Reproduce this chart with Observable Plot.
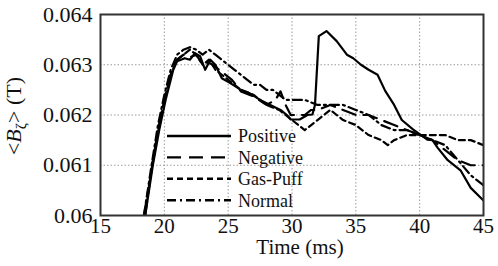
<!DOCTYPE html>
<html><head><meta charset="utf-8">
<script src="https://cdn.jsdelivr.net/npm/d3@7"></script>
<script src="https://cdn.jsdelivr.net/npm/@observablehq/plot@0.6"></script>
<style>body{margin:0;background:#fff} svg{display:block}</style>
</head><body><div id="chart"></div>
<script>
const seriesNames = ["Positive", "Negative", "Gas-Puff", "Normal"];
const xTicks = [15, 20, 25, 30, 35, 40, 45];
const yTicks = [0.060, 0.061, 0.062, 0.063, 0.064];

const posT = [18.5,19.1,19.6,20.1,20.7,21.0,21.6,22.0,22.4,22.8,23.2,23.6,24.0,24.5,25.2,26.0,26.7,27.5,28.3,29.1,29.6,29.9,30.6,31.2,31.6,31.8,32.1,32.7,33.5,34.3,34.8,35.4,36.0,36.7,37.3,38.0,38.6,39.5,40.6,41.0,41.4,42.2,43.2,44.0,44.8,45.0];
const posV = [0.0600,0.0610,0.0617,0.0623,0.0629,0.06307,0.06313,0.0631,0.06323,0.06317,0.0629,0.0631,0.0630,0.06273,0.06263,0.0625,0.06243,0.0623,0.0622,0.0621,0.0620,0.06191,0.06191,0.0620,0.06201,0.0622,0.06357,0.06367,0.06347,0.0632,0.06313,0.0630,0.0629,0.0628,0.06248,0.0622,0.0619,0.06171,0.06151,0.0615,0.06135,0.0611,0.0609,0.06055,0.06035,0.0603];

const negT = [18.5,19.1,19.6,20.1,20.6,21.0,21.5,22.0,22.5,23.0,23.4,23.8,24.3,24.8,25.3,26.0,27.0,28.0,28.7,29.1,29.5,29.9,30.5,31.0,31.5,32.0,33.0,34.0,35.0,36.0,37.0,38.0,39.0,40.0,41.0,42.0,43.0,44.0,45.0];
const negV = [0.0600,0.0611,0.0618,0.0624,0.0629,0.0631,0.0632,0.06315,0.0632,0.0630,0.06305,0.0630,0.0629,0.0628,0.0627,0.06247,0.06237,0.0622,0.0623,0.06247,0.0622,0.0620,0.0620,0.0620,0.0621,0.0621,0.0622,0.0621,0.0620,0.0620,0.0619,0.0618,0.0617,0.0616,0.0615,0.0613,0.0611,0.0610,0.0610];

const gasT = [18.4,19.0,19.5,20.0,20.5,21.0,21.5,22.0,22.5,23.0,23.5,24.0,24.5,25.0,25.5,26.0,27.0,28.0,29.0,29.5,30.0,30.5,31.0,31.5,32.0,32.5,33.0,33.5,34.0,35.0,36.0,37.0,37.5,38.0,39.0,40.0,41.0,42.0,43.0,44.0,45.0];
const gasV = [0.0600,0.0609,0.0617,0.0623,0.0628,0.0631,0.0632,0.0633,0.0632,0.0630,0.0631,0.0629,0.0628,0.0627,0.0626,0.0625,0.0624,0.0622,0.0621,0.0620,0.0619,0.0618,0.0617,0.0618,0.0619,0.0620,0.0621,0.0620,0.0619,0.0618,0.0616,0.0615,0.0614,0.0615,0.0616,0.0616,0.0616,0.0616,0.0615,0.0615,0.0614];

const normT = [18.4,19.0,19.5,20.0,20.5,21.0,21.5,22.0,22.5,23.0,23.5,24.0,24.5,25.0,25.5,26.0,26.5,27.0,27.5,28.0,28.5,29.0,29.5,30.0,31.0,32.0,33.0,34.0,35.0,36.0,37.0,38.0,39.0,40.0,41.0,42.0,43.0,44.0,45.0];
const normV = [0.0600,0.0610,0.0618,0.0624,0.0629,0.0632,0.0633,0.06335,0.0633,0.0632,0.0633,0.0632,0.0631,0.0630,0.0629,0.0628,0.0627,0.0626,0.0626,0.0625,0.0625,0.0624,0.0623,0.0623,0.0623,0.0622,0.0622,0.0622,0.0621,0.0620,0.0618,0.0617,0.0617,0.0616,0.0615,0.0614,0.0611,0.0608,0.0606];

const times = [posT, negT, gasT, normT];
const values = [posV, negV, gasV, normV];
const dashes = [null, "14,8", "6,4", "9,4,2,4"];

const rows = seriesNames.flatMap((name, i) => times[i].map((t, j) => ({series: name, t, v: values[i][j]})));

const FONT = "Liberation Serif, Times New Roman, Times, serif";

const svg = Plot.plot({
  width: 498, height: 266,
  marginLeft: 100, marginRight: 15, marginTop: 14, marginBottom: 51,
  style: {fontFamily: FONT, fontSize: "22px", background: "#fff", color: "#111"},
  x: {domain: [15, 45]},
  y: {domain: [0.060, 0.064]},
  marks: [
    Plot.gridX(xTicks, {stroke: "#9a9a9a", strokeOpacity: 1, strokeDasharray: "1.5,2"}),
    Plot.gridY(yTicks, {stroke: "#9a9a9a", strokeOpacity: 1, strokeDasharray: "1.5,2"}),
    ...seriesNames.map((name, i) => Plot.line(rows.filter(d => d.series === name), {
      x: "t", y: "v", stroke: "#000", strokeWidth: 2.2,
      strokeDasharray: dashes[i], strokeLinejoin: "round", clip: true
    })),
    Plot.frame({stroke: "#333", strokeWidth: 2}),
    Plot.axisX(xTicks, {tickSize: 0, tickPadding: 3, fontSize: 21, label: null, tickFormat: d => String(d)}),
    Plot.axisY(yTicks, {tickSize: 0, tickPadding: 8, fontSize: 22, label: null, tickFormat: d => String(+d.toFixed(3))}),
    Plot.text(["Time (ms)"], {frameAnchor: "bottom", lineAnchor: "middle", dy: 32, dx: 8, fontSize: 21, text: d => d, fill: "#111"})
  ]
});
document.getElementById("chart").append(svg);

const s = d3.select(svg);
// y-axis label with italic B and subscript zeta
const yl = s.append("text")
  .attr("transform", "translate(21,116) rotate(-90)")
  .attr("text-anchor", "middle")
  .attr("font-family", FONT).attr("font-size", 22).attr("fill", "#111");
yl.append("tspan").text("<");
yl.append("tspan").attr("font-style", "italic").text("B");
yl.append("tspan").attr("font-size", 15).attr("dy", 5).text("ζ");
yl.append("tspan").attr("dy", -5).text("> (T)");

// legend
const lg = s.append("g").attr("font-family", FONT).attr("font-size", 18).attr("fill", "#111")
  .attr("text-anchor", "start");
seriesNames.forEach((name, i) => {
  const y = 136 + i * 21.4;
  lg.append("line").attr("x1", 167).attr("x2", 231).attr("y1", y).attr("y2", y)
    .attr("stroke", "#000").attr("stroke-width", 2.4)
    .attr("stroke-dasharray", dashes[i] || null);
  lg.append("text").attr("x", 238).attr("y", y).attr("dy", "0.35em").attr("text-anchor", "start").text(name);
});
</script></body></html>
